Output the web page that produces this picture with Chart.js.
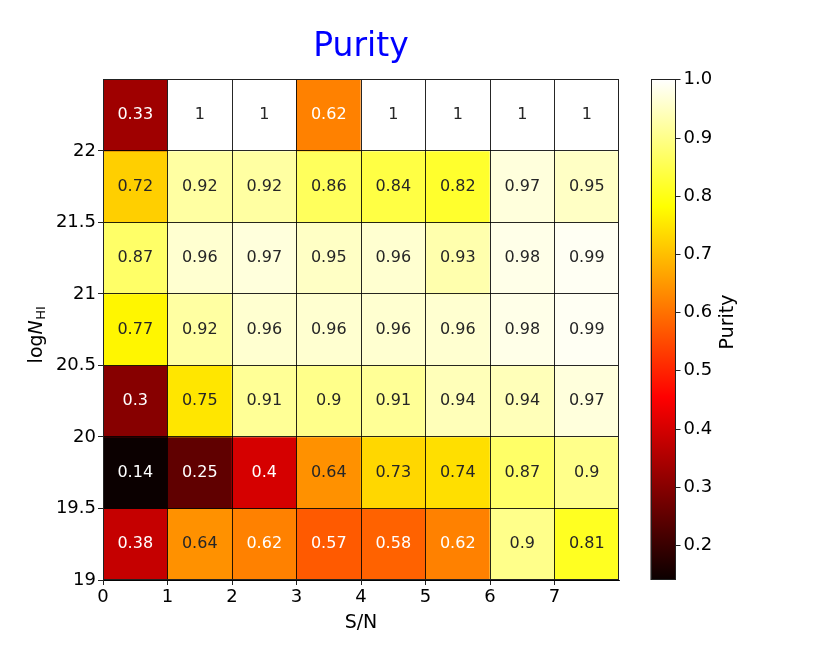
<!DOCTYPE html>
<html>
<head>
<meta charset="utf-8">
<script src="https://cdn.jsdelivr.net/npm/chart.js@4.4.0/dist/chart.umd.min.js"></script>
<style>
  html, body { margin: 0; padding: 0; background: #fff; }
  #wrap { width: 830px; height: 664px; }
</style>
</head>
<body>
<div id="wrap"><canvas id="chart" width="830" height="664"></canvas></div>
<script>
// bin edges
const snEdges = [0, 1, 2, 3, 4, 5, 6, 7, 8];
const nhiEdges = [19, 19.5, 20, 20.5, 21, 21.5, 22, 22.5];
const xTicks = [0, 1, 2, 3, 4, 5, 6, 7];
const yTicks = [19, 19.5, 20, 20.5, 21, 21.5, 22];
const cbTicks = [0.2, 0.3, 0.4, 0.5, 0.6, 0.7, 0.8, 0.9, 1.0];

// purity per cell, rows from logNHI 19-19.5 upwards
const purity = [
    [0.38, 0.64, 0.62, 0.57, 0.58, 0.62, 0.9, 0.81],
    [0.14, 0.25, 0.4, 0.64, 0.73, 0.74, 0.87, 0.9],
    [0.3, 0.75, 0.91, 0.9, 0.91, 0.94, 0.94, 0.97],
    [0.77, 0.92, 0.96, 0.96, 0.96, 0.96, 0.98, 0.99],
    [0.87, 0.96, 0.97, 0.95, 0.96, 0.93, 0.98, 0.99],
    [0.72, 0.92, 0.92, 0.86, 0.84, 0.82, 0.97, 0.95],
    [0.33, 1, 1, 0.62, 1, 1, 1, 1]
];

const vmin = 0.14;
const vmax = 1.0;

// matplotlib 'hot'
function hot(v) {
    const t = Math.min(1, Math.max(0, (v - vmin) / (vmax - vmin)));
    const r = t < 0.365079 ? 0.0416 + (1 - 0.0416) * t / 0.365079 : 1;
    const g = Math.min(1, Math.max(0, (t - 0.365079) / (0.746032 - 0.365079)));
    const b = Math.min(1, Math.max(0, (t - 0.746032) / (1 - 0.746032)));
    return [r, g, b];
}
function rgbStr(c) {
    return 'rgb(' + c.map(x => Math.round(x * 255)).join(',') + ')';
}
// seaborn-style annotation colour
function textColor(v) {
    const lin = c => c <= 0.03928 ? c / 12.92 : Math.pow((c + 0.055) / 1.055, 2.4);
    const [r, g, b] = hot(v).map(lin);
    const lum = 0.2126 * r + 0.7152 * g + 0.0722 * b;
    return lum > 0.408 ? '#262626' : '#ffffff';
}

const cells = [];
for (let i = 0; i < purity.length; i++) {
    for (let j = 0; j < purity[i].length; j++) {
        cells.push({
            x: (snEdges[j] + snEdges[j + 1]) / 2,
            y: [nhiEdges[i], nhiEdges[i + 1]],
            v: purity[i][j]
        });
    }
}

Chart.defaults.font.family = '"DejaVu Sans", sans-serif';
Chart.defaults.color = '#000';

const lineCol = 'rgba(0,0,0,0.85)';

const annotatePlugin = {
    id: 'annotate',
    afterDatasetsDraw(chart) {
        const ctx = chart.ctx;
        const meta = chart.getDatasetMeta(0);
        ctx.save();
        ctx.font = '16px "DejaVu Sans"';
        ctx.textAlign = 'center';
        ctx.textBaseline = 'middle';
        meta.data.forEach((bar, k) => {
            const v = cells[k].v;
            ctx.fillStyle = textColor(v);
            ctx.fillText(String(v), bar.x, (bar.y + bar.base) / 2);
        });
        ctx.restore();
    }
};

const framePlugin = {
    id: 'frame',
    afterDraw(chart) {
        const ctx = chart.ctx;
        const a = chart.chartArea;
        ctx.save();
        ctx.strokeStyle = '#222';
        ctx.lineWidth = 1;
        ctx.strokeRect(Math.round(a.left) + 0.5, Math.round(a.top) + 0.5,
            Math.round(a.right - a.left) - 1, Math.round(a.bottom - a.top) - 1);

        // y axis label: log N_HI
        ctx.translate(37, 335);
        ctx.rotate(-Math.PI / 2);
        ctx.textBaseline = 'middle';
        ctx.textAlign = 'left';
        ctx.fillStyle = '#000';
        const f1 = '19px "DejaVu Sans"';
        const f2 = 'italic 19px "DejaVu Sans"';
        const f3 = '13px "DejaVu Sans"';
        ctx.font = f1; const w1 = ctx.measureText('log').width;
        ctx.font = f2; const w2 = ctx.measureText('N').width;
        ctx.font = f3; const w3 = ctx.measureText('HI').width;
        let x0 = -(w1 + w2 + w3) / 2;
        ctx.font = f1; ctx.fillText('log', x0, 0);
        ctx.font = f2; ctx.fillText('N', x0 + w1, 0);
        ctx.font = f3; ctx.fillText('HI', x0 + w1 + w2 + 0.5, 5);
        ctx.restore();

        // colorbar
        const cbL = a.right + 31.5;
        const cbW = 25;
        const top = a.top;
        const bot = a.bottom;
        const grad = ctx.createLinearGradient(0, bot, 0, top);
        [0, 0.365079, 0.746032, 1].forEach(s => {
            grad.addColorStop(s, rgbStr(hot(vmin + s * (vmax - vmin))));
        });
        ctx.save();
        ctx.fillStyle = grad;
        ctx.fillRect(cbL, top, cbW, bot - top);
        ctx.strokeStyle = '#222';
        ctx.lineWidth = 1;
        ctx.strokeRect(Math.round(cbL) + 0.5, Math.round(top) + 0.5, cbW - 1, Math.round(bot - top) - 1);
        ctx.font = '18px "DejaVu Sans"';
        ctx.fillStyle = '#000';
        ctx.textAlign = 'left';
        ctx.textBaseline = 'middle';
        cbTicks.forEach(v => {
            const y = Math.round(bot - (v - vmin) / (vmax - vmin) * (bot - top)) + 0.5;
            ctx.beginPath();
            ctx.moveTo(cbL + cbW, y);
            ctx.lineTo(cbL + cbW + 5, y);
            ctx.stroke();
            ctx.fillText(v.toFixed(1), cbL + cbW + 8, y);
        });
        ctx.translate(a.right + 109, 322);
        ctx.rotate(-Math.PI / 2);
        ctx.textAlign = 'center';
        ctx.font = '19px "DejaVu Sans"';
        ctx.fillText('Purity', 0, 0);
        ctx.restore();
    }
};

new Chart(document.getElementById('chart').getContext('2d'), {
    type: 'bar',
    data: {
        datasets: [{
            data: cells,
            backgroundColor: cells.map(c => rgbStr(hot(c.v))),
            borderWidth: 0,
            barPercentage: 1.0,
            categoryPercentage: 1.0
        }]
    },
    options: {
        responsive: false,
        animation: false,
        layout: { padding: { left: 0, right: 211, top: 0, bottom: 0 } },
        plugins: {
            legend: { display: false },
            tooltip: { enabled: false },
            title: {
                display: true,
                text: 'Purity',
                color: '#0000ff',
                fullSize: false,
                font: { size: 33, weight: 'normal' },
                padding: { top: 27.5, bottom: 12.2 }
            }
        },
        scales: {
            x: {
                type: 'linear',
                min: 0,
                max: 8,
                offset: false,
                afterBuildTicks: s => { s.ticks = xTicks.map(v => ({ value: v })); },
                afterFit: s => { s.height = 84; },
                ticks: {
                    font: { size: 18 },
                    color: '#000',
                    padding: 2,
                    maxRotation: 0,
                    callback: v => String(v)
                },
                grid: { z: 1, offset: false, color: lineCol, lineWidth: 1, tickLength: 5, tickColor: '#222' },
                border: { display: true, color: '#222', width: 1, z: 1 },
                title: {
                    display: true,
                    text: 'S/N',
                    font: { size: 19 },
                    color: '#000',
                    padding: { top: 0, bottom: 30 }
                }
            },
            y: {
                type: 'linear',
                min: 19,
                max: 22.5,
                beginAtZero: false,
                afterBuildTicks: s => { s.ticks = yTicks.map(v => ({ value: v })); },
                afterFit: s => { s.width = 103; },
                ticks: {
                    font: { size: 18 },
                    color: '#000',
                    padding: 2,
                    callback: v => String(v)
                },
                grid: { z: 1, color: lineCol, lineWidth: 1, tickLength: 5, tickColor: '#222' },
                border: { display: true, color: '#222', width: 1, z: 1 }
            }
        }
    },
    plugins: [annotatePlugin, framePlugin]
});
</script>
</body>
</html>
